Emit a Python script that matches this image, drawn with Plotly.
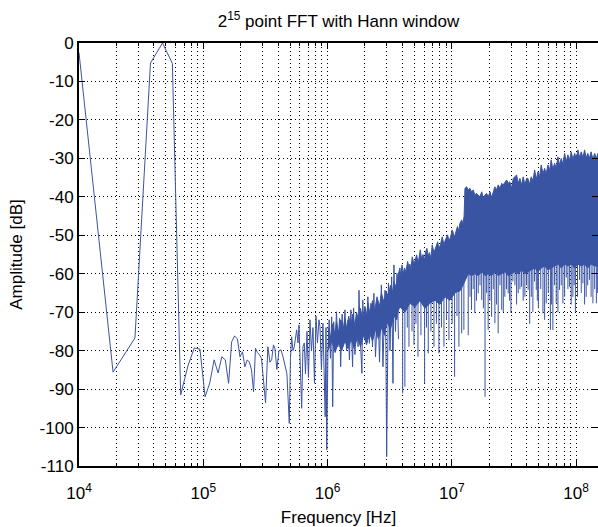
import math
import plotly.graph_objects as go

# ---------------- data ----------------
# individual line: low / mid frequencies (Hz, dB)
line_freq = [
    1.0e4, 1.88e4, 2.82e4, 3.76e4, 4.70e4, 5.64e4, 6.58e4, 7.52e4, 8.46e4, 9.40e4,
    1.034e5, 1.128e5, 1.222e5, 1.316e5, 1.41e5, 1.504e5, 1.598e5, 1.692e5, 1.786e5, 1.88e5,
    1.974e5, 2.068e5, 2.162e5, 2.256e5, 2.35e5, 2.444e5, 2.538e5, 2.632e5, 2.726e5, 2.82e5,
    2.94e5, 3.05e5, 3.17e5, 3.31e5, 3.44e5, 3.55e5, 3.67e5, 3.77e5, 3.91e5, 4.06e5,
    4.22e5, 4.38e5, 4.54e5, 4.71e5, 4.92e5, 5.03e5, 5.14e5, 5.27e5, 5.40e5, 5.52e5,
    5.64e5, 5.78e5, 5.89e5, 6.05e5, 6.19e5, 6.34e5, 6.50e5, 6.64e5, 6.83e5, 7.02e5,
    7.22e5, 7.42e5, 7.63e5, 7.85e5, 8.07e5, 8.29e5, 8.53e5,
    8.69e5, 8.93e5, 9.18e5, 9.39e5, 9.57e5, 9.71e5, 9.85e5, 1.007e6, 1.03e6, 1.055e6,
    1.079e6, 1.10e6, 1.12e6, 1.146e6, 1.18e6, 1.21e6, 1.25e6, 1.275e6, 1.31e6, 1.34e6,
    1.38e6, 1.42e6, 1.46e6, 1.50e6, 1.54e6, 1.59e6, 1.62e6, 1.66e6, 1.71e6, 1.76e6,
    1.79e6, 1.84e6, 1.89e6, 1.92e6, 1.96e6, 2.00e6, 2.06e6, 2.11e6, 2.17e6, 2.23e6,
    2.30e6, 2.36e6, 2.43e6, 2.54e6, 2.62e6, 2.71e6, 2.79e6, 2.90e6, 2.95e6, 2.99e6,
    3.04e6, 3.09e6, 3.18e6, 3.28e6, 3.36e6, 3.42e6, 3.52e6, 3.62e6, 3.72e6,
]
line_db = [
    -2.5, -85.6, -76.7, -5.2, 0.0, -5.3, -91.5, -84.0, -79.3, -79.6,
    -92.0, -88.4, -82.4, -85.8, -81.6, -82.4, -88.5, -77.7, -76.2, -76.9,
    -81.6, -80.3, -84.2, -82.4, -83.0, -85.0, -90.7, -79.4, -80.5, -81.0,
    -82.0, -88.4, -93.6, -79.0, -83.0, -82.4, -78.5, -79.5, -84.9, -80.0,
    -79.8, -81.6, -84.0, -86.0, -98.9, -82.0, -76.4, -80.0, -79.0, -76.0,
    -74.6, -78.0, -73.3, -85.0, -95.0, -79.0, -78.0, -86.0, -75.0, -87.0,
    -72.0, -80.0, -74.0, -88.5, -71.0, -78.0, -72.0,
    -73.8, -85.0, -72.9, -89.4, -97.2, -74.0, -105.8, -80.0, -72.0, -82.0,
    -71.2, -94.6, -72.5, -79.8, -69.9, -79.0, -71.6, -84.2, -70.5, -78.0,
    -69.4, -80.0, -72.0, -82.4, -69.4, -84.2, -68.9, -81.0, -70.7, -79.0,
    -64.3, -78.0, -85.9, -66.8, -76.0, -69.4, -77.2, -66.0, -78.1, -67.7,
    -79.0, -65.1, -81.6, -68.1, -83.0, -62.9, -84.2, -64.3, -80.0, -107.6,
    -78.0, -62.5, -80.0, -60.8, -88.5, -57.7, -75.0, -59.9, -77.0,
]

# dense band: upper edge (Hz, dB)
band_top_freq = [
    1.007e6, 1.05e6, 1.10e6, 1.146e6, 1.18e6, 1.23e6, 1.28e6, 1.33e6, 1.38e6, 1.43e6,
    1.48e6, 1.54e6, 1.59e6, 1.66e6, 1.71e6, 1.79e6, 1.84e6, 1.92e6, 2.00e6, 2.06e6,
    2.11e6, 2.20e6, 2.30e6, 2.40e6, 2.50e6, 2.62e6, 2.71e6, 2.85e6, 2.95e6, 3.09e6,
    3.20e6, 3.32e6, 3.42e6, 3.55e6, 3.65e6,
    3.72e6, 3.82e6, 3.89e6, 3.97e6, 4.08e6, 4.16e6, 4.27e6, 4.41e6, 4.52e6, 4.60e6,
    4.69e6, 4.80e6, 4.96e6, 5.05e6, 5.21e6, 5.34e6, 5.44e6, 5.57e6, 5.69e6, 5.86e6,
    6.04e6, 6.13e6, 6.30e6, 6.46e6, 6.60e6, 6.79e6, 6.95e6, 7.18e6, 7.38e6, 7.69e6,
    7.87e6, 8.09e6, 8.37e6, 8.64e6, 8.80e6, 9.25e6, 9.48e6, 9.75e6, 1.007e7, 1.053e7,
    1.069e7, 1.11e7, 1.14e7, 1.16e7, 1.20e7, 1.23e7, 1.255e7, 1.275e7,
    1.315e7, 1.355e7, 1.40e7, 1.44e7, 1.49e7, 1.53e7, 1.58e7, 1.63e7, 1.68e7, 1.74e7,
    1.79e7, 1.85e7, 1.905e7, 1.96e7, 2.03e7, 2.09e7, 2.15e7, 2.22e7, 2.29e7, 2.36e7,
    2.44e7, 2.52e7, 2.59e7, 2.67e7, 2.76e7, 2.84e7, 2.93e7, 3.02e7, 3.12e7, 3.22e7,
    3.32e7, 3.42e7, 3.53e7, 3.64e7, 3.75e7, 3.87e7, 4.00e7, 4.09e7, 4.22e7, 4.35e7,
    4.49e7, 4.64e7, 4.78e7, 4.93e7, 5.08e7, 5.24e7, 5.41e7, 5.58e7, 5.75e7, 5.93e7,
    6.11e7, 6.30e7, 6.50e7, 6.71e7, 6.92e7, 7.14e7, 7.36e7, 7.59e7, 7.83e7, 8.08e7,
    8.33e7, 8.59e7, 8.86e7, 9.13e7, 9.42e7, 9.73e7, 1.003e8, 1.034e8, 1.066e8, 1.099e8,
    1.134e8, 1.17e8, 1.205e8, 1.24e8, 1.28e8, 1.32e8, 1.365e8, 1.41e8, 1.455e8, 1.50e8,
]
band_top_db = [
    -74.0, -77.0, -73.0, -76.0, -72.5, -75.5, -72.0, -75.0, -71.5, -74.5,
    -71.0, -74.0, -70.5, -73.5, -70.0, -72.5, -69.0, -72.0, -68.5, -71.0,
    -67.5, -70.5, -67.0, -69.5, -66.0, -68.5, -65.0, -67.5, -64.5, -66.0,
    -63.0, -65.0, -62.0, -63.5, -61.0,
    -60.0, -58.5, -60.5, -57.7, -60.0, -58.5, -59.5, -56.8, -58.5, -57.5,
    -59.0, -55.6, -57.5, -56.5, -55.1, -57.0, -56.0, -53.8, -56.0, -55.0,
    -56.5, -54.5, -53.4, -55.5, -54.5, -56.0, -52.5, -54.5, -53.5, -51.7,
    -53.5, -52.5, -50.4, -52.5, -51.5, -49.9, -51.5, -50.5, -48.6, -50.5,
    -49.5, -47.7, -49.0, -47.0, -46.0, -47.0, -45.0, -37.8,
    -37.4, -38.2, -37.8, -38.7, -38.2, -39.5, -39.1, -39.5, -40.0, -38.7,
    -40.4, -39.5, -39.1, -40.0, -38.7, -40.2, -39.1, -37.4, -38.2, -36.9,
    -37.8, -36.5, -36.9, -36.1, -35.6, -36.5, -36.1, -37.8, -35.2, -34.8,
    -34.3, -36.5, -35.2, -37.0, -34.8, -36.8, -35.2, -35.2, -36.8, -34.8,
    -35.8, -33.0, -35.5, -33.5, -34.8, -31.7, -34.0, -32.6, -34.0, -31.7,
    -33.2, -30.4, -32.8, -31.3, -32.5, -29.6, -31.8, -30.0, -31.5, -28.7,
    -30.8, -29.1, -30.5, -28.3, -30.2, -28.7, -30.0, -27.8, -29.8, -28.3,
    -29.8, -27.8, -30.0, -28.7, -30.0, -28.3, -30.2, -28.7, -30.0, -28.7,
]

# dense band: lower edge of the solid core (Hz, dB)
band_bottom_freq = [
    1.007e6, 1.08e6, 1.15e6, 1.22e6, 1.30e6, 1.38e6, 1.46e6, 1.55e6, 1.64e6, 1.74e6,
    1.84e6, 1.95e6, 2.06e6, 2.18e6, 2.30e6, 2.43e6, 2.57e6, 2.71e6, 2.87e6, 3.02e6,
    3.20e6, 3.42e6, 3.60e6, 3.72e6,
    3.82e6, 4.19e6, 4.60e6, 5.05e6, 5.54e6, 6.08e6, 6.67e6, 7.31e6, 8.02e6,
    8.80e6, 9.66e6, 1.059e7, 1.16e7, 1.23e7, 1.275e7, 1.355e7, 1.44e7, 1.53e7, 1.63e7,
    1.74e7, 1.85e7, 1.96e7, 2.09e7, 2.22e7, 2.36e7, 2.52e7, 2.67e7, 2.84e7, 3.02e7,
    3.22e7, 3.42e7, 3.64e7, 3.87e7, 4.09e7, 4.35e7, 4.64e7, 4.93e7, 5.24e7, 5.58e7,
    5.93e7, 6.30e7, 6.71e7, 7.14e7, 7.59e7, 8.08e7, 8.59e7, 9.13e7, 9.73e7, 1.034e8,
    1.099e8, 1.17e8, 1.24e8, 1.32e8, 1.41e8, 1.50e8,
]
band_bottom_db = [
    -80.0, -77.5, -80.5, -78.0, -80.0, -77.5, -79.5, -77.0, -79.5, -76.5,
    -79.0, -76.0, -78.5, -75.5, -77.5, -74.5, -77.0, -74.0, -76.0, -72.5,
    -74.5, -71.0, -72.0, -69.5,
    -68.6, -70.0, -67.7, -68.6, -67.0, -69.0, -67.7, -66.9, -68.0,
    -66.0, -66.9, -65.0, -64.5, -63.0, -62.0, -60.0, -60.5, -60.0, -60.5,
    -59.5, -60.5, -60.0, -60.5, -59.5, -60.5, -60.0, -59.5, -60.5, -60.0,
    -59.5, -60.0, -59.0, -60.0, -59.5, -59.0, -58.5, -59.5, -58.5, -58.0,
    -59.0, -58.5, -58.0, -57.5, -58.5, -57.5, -58.0, -57.5, -58.5, -57.5,
    -58.0, -57.5, -58.5, -57.5, -58.0, -58.0,
]

# downward spikes below the dense core (Hz, core level dB, spike depth dB)
spike_freq = [
    4.02e6, 4.19e6, 4.38e6, 4.52e6, 4.78e6, 4.96e6, 5.14e6, 5.34e6, 5.64e6, 6.04e6,
    6.25e6, 6.46e6, 6.79e6, 7.18e6, 7.52e6, 7.87e6, 8.25e6, 8.64e6, 9.05e6, 9.48e6,
    1.005e7, 1.053e7, 1.10e7, 1.14e7, 1.20e7, 1.25e7, 1.355e7, 1.44e7, 1.53e7, 1.63e7,
    1.74e7, 1.85e7, 1.96e7, 2.09e7, 2.22e7, 2.36e7, 2.52e7, 2.67e7, 2.84e7, 2.99e7,
    3.22e7, 3.42e7, 3.64e7, 3.87e7, 4.11e7, 4.23e7, 4.49e7, 4.78e7, 4.97e7, 5.41e7,
    5.75e7, 6.21e7, 6.50e7, 6.92e7, 7.36e7, 7.83e7, 8.33e7, 8.86e7, 9.42e7, 9.87e7,
    1.066e8, 1.134e8, 1.205e8, 1.28e8, 1.365e8, 1.455e8,
    1.40e7, 1.485e7, 1.58e7, 1.685e7, 1.795e7, 1.905e7, 2.025e7, 2.155e7, 2.29e7, 2.44e7,
    2.595e7, 2.755e7, 2.915e7, 3.10e7, 3.32e7, 3.53e7, 3.75e7, 3.99e7, 4.36e7, 4.63e7,
    4.875e7, 5.19e7, 5.58e7, 5.97e7, 6.35e7, 6.71e7, 7.14e7, 7.59e7, 8.08e7, 8.59e7,
    9.13e7, 9.64e7, 1.026e8, 1.10e8, 1.17e8, 1.24e8, 1.32e8, 1.41e8, 1.49e8,
]
spike_top_db = [
    -68, -69, -68, -68, -68, -68, -68, -67, -67, -68,
    -68, -68, -67, -67, -67, -67, -67, -66, -66, -66,
    -66, -65, -65, -64, -63, -62, -60, -60, -60, -60,
    -59, -60, -60, -60, -59, -60, -59, -59, -60, -59,
    -59, -59, -58, -59, -59, -58, -58, -58, -58, -57,
    -58, -58, -57, -57, -57, -57, -57, -57, -57, -57,
    -57, -57, -57, -57, -57, -57,
    -60, -60, -60, -59, -60, -60, -60, -59, -60, -59,
    -59, -59, -60, -59, -59, -59, -58, -59, -58, -58,
    -58, -58, -57, -58, -58, -57, -57, -57, -57, -57,
    -57, -57, -57, -57, -57, -57, -57, -57, -57,
]
spike_bottom_db = [
    -91.1, -89.4, -74.0, -79.0, -75.0, -78.5, -73.0, -81.6, -76.0, -88.5,
    -74.0, -80.7, -75.0, -79.0, -73.0, -80.7, -74.0, -79.0, -72.0, -77.3,
    -73.0, -86.8, -71.0, -79.0, -75.5, -74.6, -76.0, -69.4, -70.2, -65.1,
    -66.8, -92.0, -74.6, -71.2, -72.9, -75.5, -69.4, -66.0, -65.1, -70.2,
    -63.0, -65.1, -63.4, -66.0, -64.2, -73.0, -69.9, -64.2, -69.0, -70.3,
    -67.7, -74.6, -74.6, -67.7, -64.2, -67.7, -61.0, -63.4, -66.0, -69.9,
    -61.6, -62.5, -66.0, -61.6, -67.7, -67.7,
    -66.0, -64.0, -67.0, -63.0, -69.0, -65.0, -67.0, -64.0, -68.0, -63.0,
    -70.0, -64.0, -67.0, -62.0, -68.0, -64.0, -67.0, -63.0, -66.0, -62.0,
    -67.0, -64.0, -72.0, -65.0, -68.0, -63.0, -70.0, -63.0, -66.0, -64.0,
    -68.0, -63.0, -66.0, -65.0, -68.0, -63.0, -66.0, -64.0, -65.0,
]

# axis ticks
x_tick_vals = [1e4, 1e5, 1e6, 1e7, 1e8]
x_tick_text = ["10<sup>4</sup>", "10<sup>5</sup>", "10<sup>6</sup>", "10<sup>7</sup>", "10<sup>8</sup>"]
y_tick_vals = [0, -10, -20, -30, -40, -50, -60, -70, -80, -90, -100, -110]
y_tick_text = ["0", "-10", "-20", "-30", "-40", "-50", "-60", "-70", "-80", "-90", "-100", "-110"]

# ---------------- figure ----------------
BLUE = "#3a54a4"
FONT = "Liberation Sans, Arial, Helvetica, sans-serif"
FS = 17

fig = go.Figure()

poly_x = band_top_freq + band_bottom_freq[::-1]
poly_y = band_top_db + band_bottom_db[::-1]
fig.add_trace(go.Scatter(x=poly_x, y=poly_y, mode="lines", fill="toself",
                         fillcolor=BLUE, line=dict(color=BLUE, width=1),
                         hoverinfo="skip", showlegend=False))

sx, sy = [], []
for f, t, b in zip(spike_freq, spike_top_db, spike_bottom_db):
    sx += [f, f, None]
    sy += [t, b, None]
fig.add_trace(go.Scatter(x=sx, y=sy, mode="lines", line=dict(color=BLUE, width=1),
                         hoverinfo="skip", showlegend=False))

fig.add_trace(go.Scatter(x=line_freq, y=line_db, mode="lines",
                         line=dict(color=BLUE, width=1), showlegend=False))

minor_vals = [m * 10 ** d for d in range(4, 9) for m in range(2, 10)]
grid_style = dict(showgrid=True, gridcolor="black", gridwidth=1, griddash="1px,3px")

fig.update_layout(
    width=598, height=527,
    margin=dict(l=79, r=0, t=43, b=61),
    paper_bgcolor="white", plot_bgcolor="white",
    font=dict(family=FONT, size=FS, color="black"),
    showlegend=False,
    title=dict(text="2<sup>15</sup> point FFT with Hann window",
               x=0.5, xref="paper", xanchor="center",
               y=1 - 21 / 527, yref="container", yanchor="middle",
               font=dict(family=FONT, size=FS, color="black")),
)

fig.update_xaxes(
    type="log", range=[4, math.log10(1.5e8)],
    tickvals=x_tick_vals, ticktext=x_tick_text,
    ticks="inside", ticklen=6, tickwidth=1, tickcolor="black",
    ticklabelstandoff=11,
    showline=True, linecolor="black", linewidth=2, mirror="allticks",
    zeroline=False, automargin=False,
    tickfont=dict(family=FONT, size=FS, color="black"),
    title=dict(text="Frequency [Hz]", standoff=15,
               font=dict(family=FONT, size=FS, color="black")),
    minor=dict(tickvals=minor_vals, ticks="inside", ticklen=3, tickcolor="black",
               **grid_style),
    **grid_style,
)

fig.update_yaxes(
    range=[-110, 0],
    tickvals=y_tick_vals, ticktext=y_tick_text,
    ticks="inside", ticklen=6, tickwidth=1, tickcolor="black",
    showline=True, linecolor="black", linewidth=2, mirror="allticks",
    zeroline=False, automargin=False,
    tickfont=dict(family=FONT, size=FS, color="black"),
    title=dict(text="Amplitude [dB]", standoff=13,
               font=dict(family=FONT, size=FS, color="black")),
    **grid_style,
)

fig.write_html("out.html",
               config={"displayModeBar": False},
               post_script="document.body.style.margin='0';"
                           "document.body.style.overflow='hidden';")
